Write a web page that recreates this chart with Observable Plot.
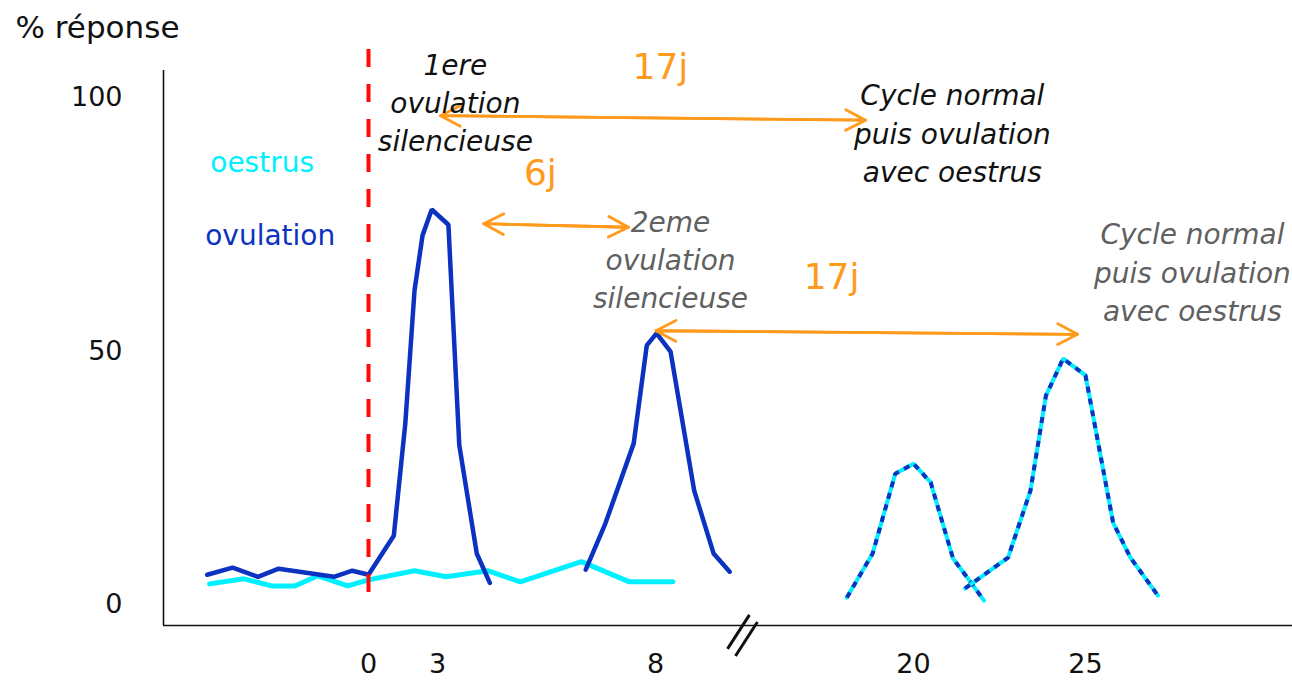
<!DOCTYPE html>
<html>
<head>
<meta charset="utf-8">
<script src="https://cdn.jsdelivr.net/npm/d3@7"></script>
<script src="https://cdn.jsdelivr.net/npm/@observablehq/plot@0.6"></script>
<style>
  html, body { margin: 0; padding: 0; background: #fff; }
  #chart svg { display: block; }
</style>
</head>
<body>
<div id="chart"></div>
<script>
// ---------- data ----------
const xTicks = [0, 3, 8, 20, 25];
const yTicks = [0, 50, 100];
const xBreaks = [-8.9, 0, 3, 8, 20, 25, 31];   // piecewise axis (broken between 8 and 20)
const yMin = -4.1, yMax = 105.3;

// oestrus (cyan), before the 2nd ovulation
const oesDay = [-6.9, -5.4, -4.2, -3.2, -2.2, -0.9, 0, 2.0, 3.2, 4.15, 4.9, 6.3, 7.4, 8.8];
const oesVal = [4.1, 5.1, 3.7, 3.7, 5.7, 3.7, 4.9, 6.7, 5.5, 6.7, 4.5, 8.5, 4.5, 4.5];

// ovulation (blue), 1st silent ovulation
const ovu1Day = [-7.0, -5.9, -4.8, -3.9, -2.4, -1.5, -0.7, 0, 1.1, 1.6, 2.0, 2.35, 2.75, 3.25, 3.5, 3.9, 4.2];
const ovu1Val = [5.9, 7.3, 5.5, 7.1, 6.1, 5.5, 6.7, 5.9, 13.6, 35.7, 61.9, 72.8, 77.9, 74.9, 31.4, 10.1, 4.3];

// ovulation (blue), 2nd silent ovulation
const ovu2Day = [6.4, 6.85, 7.5, 7.8, 8.05, 8.7, 9.8, 10.7, 11.45];
const ovu2Val = [6.9, 16.0, 31.8, 51.1, 53.5, 49.9, 22.5, 10.1, 6.5];

// ovulation + oestrus together (dashed blue on cyan)
const both3Day = [16.9, 18.1, 19.15, 20.0, 20.5, 20.85, 21.15, 21.7, 22.05];
const both3Val = [1.4, 10.1, 25.8, 27.8, 24.1, 16.0, 9.1, 4.1, 0.8];
const both4Day = [21.5, 22.75, 23.4, 23.85, 24.35, 25.0, 25.8, 26.3, 27.1];
const both4Val = [3.2, 9.3, 22.5, 41.2, 48.5, 45.2, 16.2, 9.3, 1.8];

// annotations
const arrowX1 = [3.07, 4.06, 8.02];
const arrowY1 = [96.4, 75.1, 54.0];
const arrowX2 = [17.77, 7.38, 24.77];
const arrowY2 = [95.5, 74.4, 53.3];

const durLabels = ["17j", "6j", "17j"];
const durX = [8.23, 5.36, 16.19];
const durY = [105.9, 85.0, 64.5];

const noteLabels = ["1ere\novulation\nsilencieuse", "Cycle normal\npuis ovulation\navec oestrus",
                    "2eme\novulation\nsilencieuse", "Cycle normal\npuis ovulation\navec oestrus"];
const noteX = [3.41, 21.13, 8.70, 28.1];
const noteY = [99.4, 93.3, 68.4, 65.9];
const noteColor = ["#111111", "#111111", "#606060", "#606060"];

const legendLabels = ["oestrus", "ovulation"];
const legendX = [-6.87, -7.09];
const legendY = [87.0, 72.6];

const breakX1 = [11.35, 11.72];
const breakY1 = [-8.7, -10.1];
const breakX2 = [12.37, 12.74];
const breakY2 = [-2.0, -3.4];

const title = "% réponse";
const redLineY = [2.4, 109.7];

// ---------- build tables ----------
const zip = (xs, ys) => xs.map((d, i) => ({day: d, val: ys[i]}));
const oes = zip(oesDay, oesVal);
const ovu1 = zip(ovu1Day, ovu1Val);
const ovu2 = zip(ovu2Day, ovu2Val);
const both3 = zip(both3Day, both3Val);
const both4 = zip(both4Day, both4Val);
const arrows = arrowX1.map((d, i) => ({x1: d, y1: arrowY1[i], x2: arrowX2[i], y2: arrowY2[i]}));
const durs = durLabels.map((t, i) => ({t, x: durX[i], y: durY[i]}));
const notes = noteLabels.map((t, i) => ({t, x: noteX[i], y: noteY[i], c: noteColor[i]}));
const legend = legendLabels.map((t, i) => ({t, x: legendX[i], y: legendY[i]}));
const breaks = breakX1.map((d, i) => ({x1: d, y1: breakY1[i], x2: breakX2[i], y2: breakY2[i]}));

const CYAN = "#00f0ff", BLUE = "#0b32c0", ORANGE = "#ff9a1c", RED = "#ff0a0a";
const FONT = "DejaVu Sans, sans-serif";

const chart = Plot.plot({
  width: 1292,
  height: 680,
  marginLeft: 163,
  marginRight: 0,
  marginTop: 70,
  marginBottom: 55,
  style: {fontFamily: FONT, fontSize: "27px", background: "#fff", color: "#111", overflow: "visible"},
  x: {type: "linear", domain: xBreaks, range: [163, 368, 437, 655, 913, 1085, 1292]},
  y: {type: "linear", domain: [yMin, yMax]},
  marks: [
    Plot.ruleY([yMin], {stroke: "#111", strokeWidth: 1.6}),
    Plot.ruleX([xBreaks[0]], {stroke: "#111", strokeWidth: 1.6}),
    Plot.axisX({ticks: xTicks, tickSize: 0, tickPadding: 28, fontSize: 27, label: null, fill: "#111"}),
    Plot.axisY({ticks: yTicks, tickSize: 0, tickPadding: 41, fontSize: 27, label: null, fill: "#111"}),
    Plot.link(breaks, {x1: "x1", y1: "y1", x2: "x2", y2: "y2", stroke: "#111", strokeWidth: 3}),
    Plot.line(oes, {x: "day", y: "val", stroke: CYAN, strokeWidth: 5, strokeLinejoin: "miter"}),
    Plot.line(ovu1, {x: "day", y: "val", stroke: BLUE, strokeWidth: 4.5, strokeLinejoin: "miter"}),
    Plot.line(ovu2, {x: "day", y: "val", stroke: BLUE, strokeWidth: 4.5, strokeLinejoin: "miter"}),
    Plot.line(both3, {x: "day", y: "val", stroke: CYAN, strokeWidth: 4, strokeLinejoin: "miter"}),
    Plot.line(both3, {x: "day", y: "val", stroke: BLUE, strokeWidth: 4, strokeDasharray: "6,6", strokeLinecap: "butt", strokeLinejoin: "miter"}),
    Plot.line(both4, {x: "day", y: "val", stroke: CYAN, strokeWidth: 4, strokeLinejoin: "miter"}),
    Plot.line(both4, {x: "day", y: "val", stroke: BLUE, strokeWidth: 4, strokeDasharray: "6,6", strokeLinecap: "butt", strokeLinejoin: "miter"}),
    Plot.ruleX([0], {y1: redLineY[0], y2: redLineY[1], stroke: RED, strokeWidth: 4, strokeDasharray: "18,17", strokeLinecap: "butt"}),
    Plot.arrow(arrows, {x1: "x1", y1: "y1", x2: "x2", y2: "y2", stroke: ORANGE, strokeWidth: 2.8, headLength: 12, headAngle: 55}),
    Plot.arrow(arrows, {x1: "x2", y1: "y2", x2: "x1", y2: "y1", stroke: ORANGE, strokeWidth: 2.8, headLength: 12, headAngle: 55}),
    Plot.text(durs, {x: "x", y: "y", text: "t", fill: ORANGE, fontSize: 36, fontFamily: FONT}),
    Plot.text(notes, {x: "x", y: "y", text: "t", fill: "c", fontSize: 28, fontStyle: "italic", lineHeight: 1.36, fontFamily: FONT}),
    Plot.text(legend, {x: "x", y: "y", text: "t", fill: (d, i) => i === 0 ? CYAN : BLUE, fontSize: 28, textAnchor: "start", fontFamily: FONT}),
    Plot.text([title], {frameAnchor: "top-left", dx: -148, dy: -42, lineAnchor: "middle", textAnchor: "start", fontSize: 31, fill: "#111", fontFamily: FONT})
  ]
});
document.getElementById("chart").appendChild(chart);
</script>
</body>
</html>
